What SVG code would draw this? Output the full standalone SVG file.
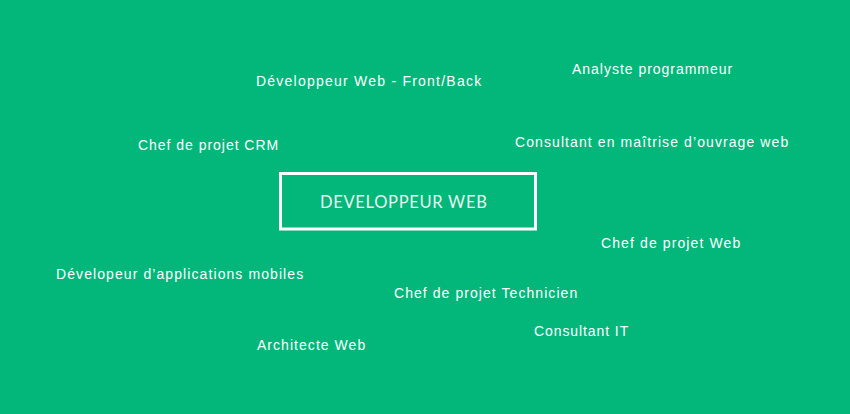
<svg xmlns="http://www.w3.org/2000/svg" width="850" height="414" viewBox="0 0 850 414">
<style>
.lbl{font-family:"Liberation Sans","DejaVu Sans",sans-serif;font-size:14px;fill:#ffffff;letter-spacing:0.8px}
.main{font-family:"Lato","Liberation Sans",sans-serif;font-size:16.5px;fill:#eaf6ef;letter-spacing:1.2px}
</style>
<rect width="850" height="414" fill="#03b77b"/>
<g id="connectors"></g>
<g id="center">
<rect x="280.5" y="173.5" width="255" height="55.5" fill="none" stroke="#ffffff" stroke-width="3"/>
<text class="main" x="320" y="207.7" textLength="168" lengthAdjust="spacing">DEVELOPPEUR WEB</text>
</g>
<g id="n1"><text class="lbl" x="256" y="85.5" textLength="226" lengthAdjust="spacing">Développeur Web - Front/Back</text></g>
<g id="n2"><text class="lbl" x="572" y="74" textLength="161" lengthAdjust="spacing">Analyste programmeur</text></g>
<g id="n3"><text class="lbl" x="138" y="150" textLength="141" lengthAdjust="spacing">Chef de projet CRM</text></g>
<g id="n4"><text class="lbl" x="515" y="147" textLength="274" lengthAdjust="spacing">Consultant en maîtrise d’ouvrage web</text></g>
<g id="n5"><text class="lbl" x="601" y="248" textLength="140" lengthAdjust="spacing">Chef de projet Web</text></g>
<g id="n6"><text class="lbl" x="56" y="279" textLength="248" lengthAdjust="spacing">Dévelopeur d’applications mobiles</text></g>
<g id="n7"><text class="lbl" x="394" y="298" textLength="184" lengthAdjust="spacing">Chef de projet Technicien</text></g>
<g id="n8"><text class="lbl" x="534" y="336" textLength="95" lengthAdjust="spacing">Consultant IT</text></g>
<g id="n9"><text class="lbl" x="257" y="350" textLength="109" lengthAdjust="spacing">Architecte Web</text></g>
</svg>
